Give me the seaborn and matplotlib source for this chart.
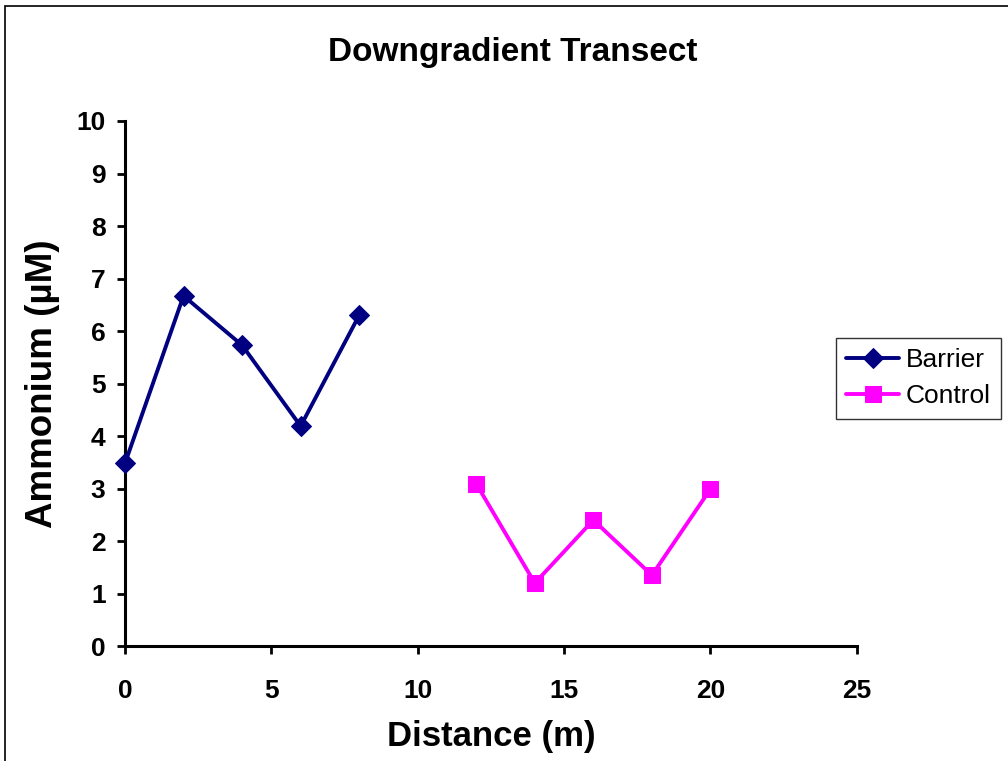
import matplotlib
matplotlib.use("Agg")
import matplotlib.pyplot as plt
from matplotlib.patches import Rectangle
import seaborn as sns
import pandas as pd

# Ammonium concentrations along the downgradient transect
barrier_distance = [0, 2, 4, 6, 8]
barrier_ammonium = [3.48, 6.67, 5.73, 4.19, 6.30]
control_distance = [12, 14, 16, 18, 20]
control_ammonium = [3.09, 1.20, 2.40, 1.35, 2.99]
series_names = ["Barrier", "Control"]
x_ticks = [0, 5, 10, 15, 20, 25]
y_ticks = list(range(0, 11))

df = pd.DataFrame({
    "Distance": barrier_distance + control_distance,
    "Ammonium": barrier_ammonium + control_ammonium,
    "Series": [series_names[0]] * len(barrier_distance) + [series_names[1]] * len(control_distance),
})

sns.set_theme(style="white")
plt.rcParams["font.family"] = ["Liberation Sans", "DejaVu Sans"]
plt.rcParams["text.color"] = "black"
plt.rcParams["axes.labelcolor"] = "black"
plt.rcParams["xtick.color"] = "black"
plt.rcParams["ytick.color"] = "black"

fig = plt.figure(figsize=(10.08, 7.61), dpi=100)
ax = fig.add_axes([0.124, 0.151, 0.726, 0.690])

palette = {"Barrier": "#000080", "Control": "#FF00FF"}
markers = {"Barrier": "D", "Control": "s"}
sizes = {"Barrier": 10, "Control": 12}

for name in series_names:
    sub = df[df["Series"] == name]
    sns.lineplot(data=sub, x="Distance", y="Ammonium", ax=ax, color=palette[name],
                 marker=markers[name], markersize=sizes[name], markeredgecolor=palette[name],
                 linewidth=2.8, label=name, clip_on=False, zorder=3)

ax.set_xlim(0, 25)
ax.set_ylim(0, 10)
ax.set_xticks(x_ticks)
ax.set_yticks(y_ticks)
ax.tick_params(axis="both", direction="out", length=6, width=2, color="black",
               labelcolor="black", labelsize=19, bottom=True, left=True)
ax.yaxis.set_tick_params(pad=8)
ax.xaxis.set_tick_params(pad=18)
for lab in ax.get_xticklabels() + ax.get_yticklabels():
    lab.set_fontweight("bold")

for side in ["top", "right"]:
    ax.spines[side].set_visible(False)
for side in ["left", "bottom"]:
    ax.spines[side].set_color("black")
    ax.spines[side].set_linewidth(2.2)

ax.set_xlabel("Distance (m)", fontsize=25, fontweight="bold", labelpad=12)
ax.set_ylabel("Ammonium (µM)", fontsize=26.5, fontweight="bold", labelpad=12)
fig.text(0.509, 0.931, "Downgradient Transect", ha="center", va="center",
         fontsize=24, fontweight="bold")

leg = ax.legend(loc="center left", bbox_to_anchor=(0.829, 0.503), bbox_transform=fig.transFigure,
                fontsize=19, frameon=True, fancybox=False, handlelength=2.0,
                borderpad=0.4, labelspacing=0.45, handletextpad=0.25, borderaxespad=0)
leg.get_frame().set_edgecolor("black")
leg.get_frame().set_linewidth(1.0)
for t in leg.get_texts():
    t.set_color("black")

# Chart-area border (top and left edges visible)
fig.patches.append(Rectangle((0.005, -0.05), 1.2, 0.943 + 0.05 + 0.0497,
                             transform=fig.transFigure, fill=False,
                             edgecolor="black", linewidth=1.2))

fig.savefig("out.png", dpi=100, facecolor="white")
